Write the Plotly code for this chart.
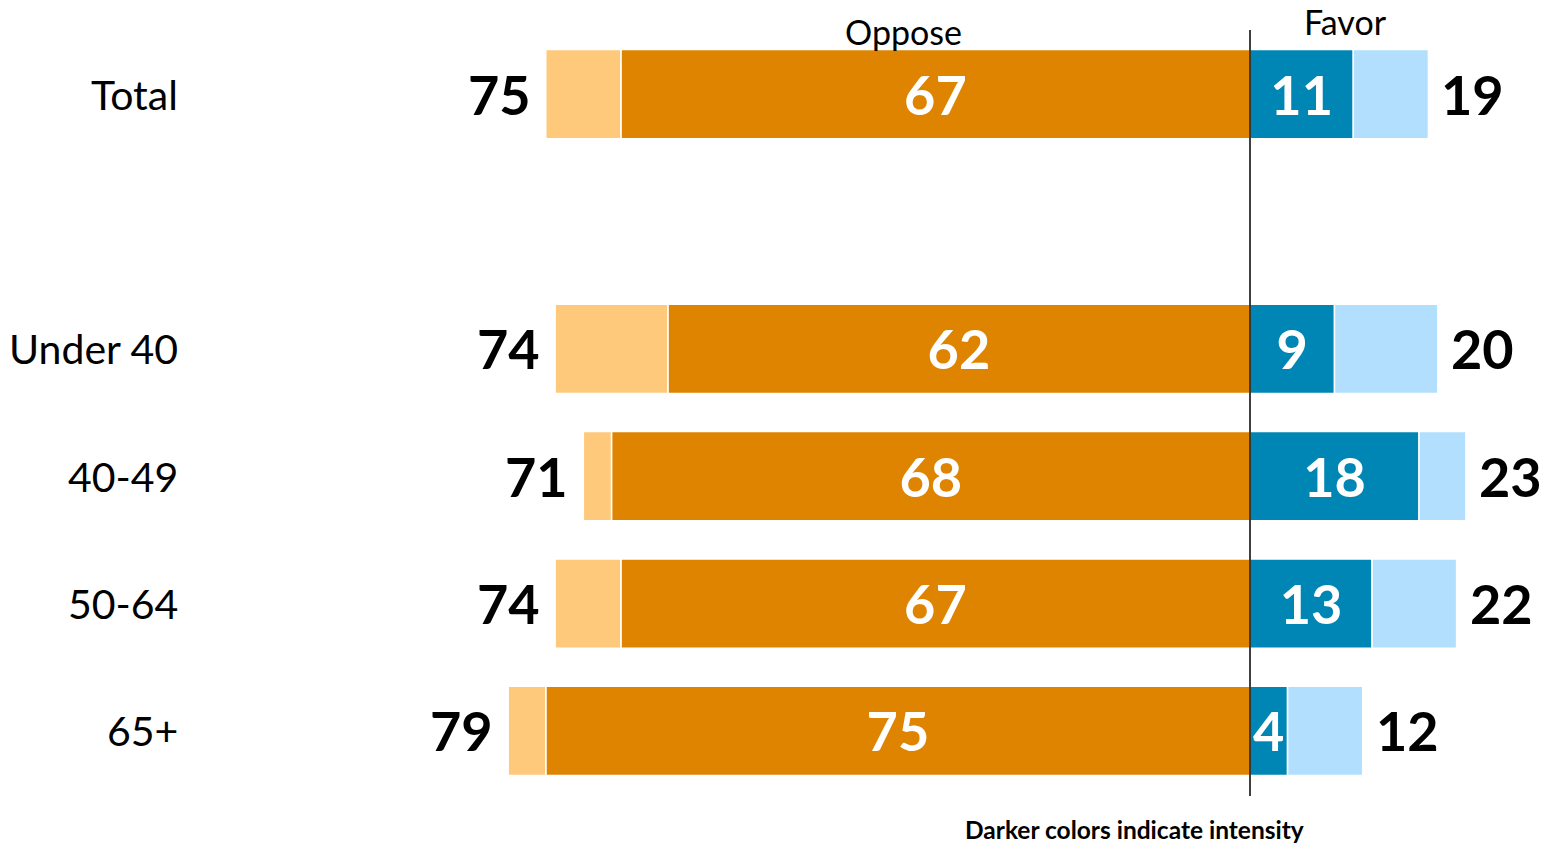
import plotly.graph_objects as go

categories = ["Total", "", "Under 40", "40-49", "50-64", "65+"]
oppose_total = [75, None, 74, 71, 74, 79]
oppose_strong = [67, None, 62, 68, 67, 75]
favor_strong = [11, None, 9, 18, 13, 4]
favor_total = [19, None, 20, 23, 22, 12]

C_OPP_LIGHT = "#FFC97C"
C_OPP_DARK = "#DE8400"
C_FAV_DARK = "#0086B5"
C_FAV_LIGHT = "#B1DFFD"
FONT = "Lato"

idx = [i for i, c in enumerate(categories) if oppose_total[i] is not None]
ys = idx

opp_dark = [-oppose_strong[i] for i in idx]
opp_light = [-(oppose_total[i] - oppose_strong[i]) for i in idx]
fav_dark = [favor_strong[i] for i in idx]
fav_light = [favor_total[i] - favor_strong[i] for i in idx]

VAL_SIZE = 54
SCALE = 9.39

fig = go.Figure()
common = dict(orientation="h", width=0.7, marker_line=dict(color="white", width=1.5))
fig.add_trace(go.Bar(y=ys, x=opp_dark, marker_color=C_OPP_DARK,
                     text=[str(oppose_strong[i]) for i in idx], textposition="inside",
                     insidetextanchor="middle",
                     textfont=dict(family=FONT, size=VAL_SIZE, color="white", weight="bold"),
                     **common))
fig.add_trace(go.Bar(y=ys, x=opp_light, marker_color=C_OPP_LIGHT, textposition="none", **common))
fig.add_trace(go.Bar(y=ys, x=fav_dark, marker_color=C_FAV_DARK,
                     text=[str(favor_strong[i]) for i in idx], textposition="inside",
                     insidetextanchor="middle",
                     textfont=dict(family=FONT, size=VAL_SIZE, color="white", weight="bold"),
                     **common))
fig.add_trace(go.Bar(y=ys, x=fav_light, marker_color=C_FAV_LIGHT, textposition="none", **common))

annotations = []
for i in idx:
    annotations.append(dict(x=-oppose_total[i], y=i, xref="x", yref="y", text=str(oppose_total[i]),
                            xanchor="right", yanchor="middle", xshift=-13, showarrow=False,
                            font=dict(family=FONT, size=VAL_SIZE, color="black", weight="bold")))
    annotations.append(dict(x=favor_total[i], y=i, xref="x", yref="y", text=str(favor_total[i]),
                            xanchor="left", yanchor="middle", xshift=11, showarrow=False,
                            font=dict(family=FONT, size=VAL_SIZE, color="black", weight="bold")))
    annotations.append(dict(x=0, y=i, xref="paper", yref="y", text=categories[i],
                            xanchor="right", yanchor="middle", xshift=-10, showarrow=False,
                            font=dict(family=FONT, size=41, color="black")))

PLOT_L, PLOT_R, PLOT_T, PLOT_B = 190, 1533, 24, 801


def px_to_paper_x(px):
    return (px - PLOT_L) / (PLOT_R - PLOT_L)


def px_to_paper_y(py):
    return (PLOT_B - py) / (PLOT_B - PLOT_T)


annotations.append(dict(x=px_to_paper_x(904), y=px_to_paper_y(31), xref="paper", yref="paper",
                        text="Oppose", showarrow=False, xanchor="center", yanchor="middle",
                        font=dict(family=FONT, size=34, color="black")))
annotations.append(dict(x=px_to_paper_x(1345), y=px_to_paper_y(22), xref="paper", yref="paper",
                        text="Favor", showarrow=False, xanchor="center", yanchor="middle",
                        font=dict(family=FONT, size=34, color="black")))
annotations.append(dict(x=px_to_paper_x(1134), y=px_to_paper_y(829), xref="paper", yref="paper",
                        text="Darker colors indicate intensity", showarrow=False,
                        xanchor="center", yanchor="middle",
                        font=dict(family=FONT, size=24.5, color="black", weight="bold")))

fig.add_shape(type="line", x0=0, x1=0, y0=px_to_paper_y(30), y1=px_to_paper_y(796),
              xref="x", yref="paper", line=dict(color="black", width=1.5))

fig.update_layout(
    barmode="relative",
    bargap=0.3,
    width=1543, height=846,
    margin=dict(l=PLOT_L, r=1543 - PLOT_R, t=PLOT_T, b=846 - PLOT_B),
    plot_bgcolor="white", paper_bgcolor="white",
    showlegend=False,
    uniformtext=dict(minsize=VAL_SIZE, mode="show"),
    annotations=annotations,
    xaxis=dict(range=[-(1250 - PLOT_L) / SCALE, (PLOT_R - 1250) / SCALE], visible=False, fixedrange=True),
    yaxis=dict(range=[5.55, -0.55], visible=False, fixedrange=True),
)

fig.write_html("out.html", config={"displayModeBar": False},
               post_script="document.body.style.margin='0';document.body.style.overflow='hidden';")
